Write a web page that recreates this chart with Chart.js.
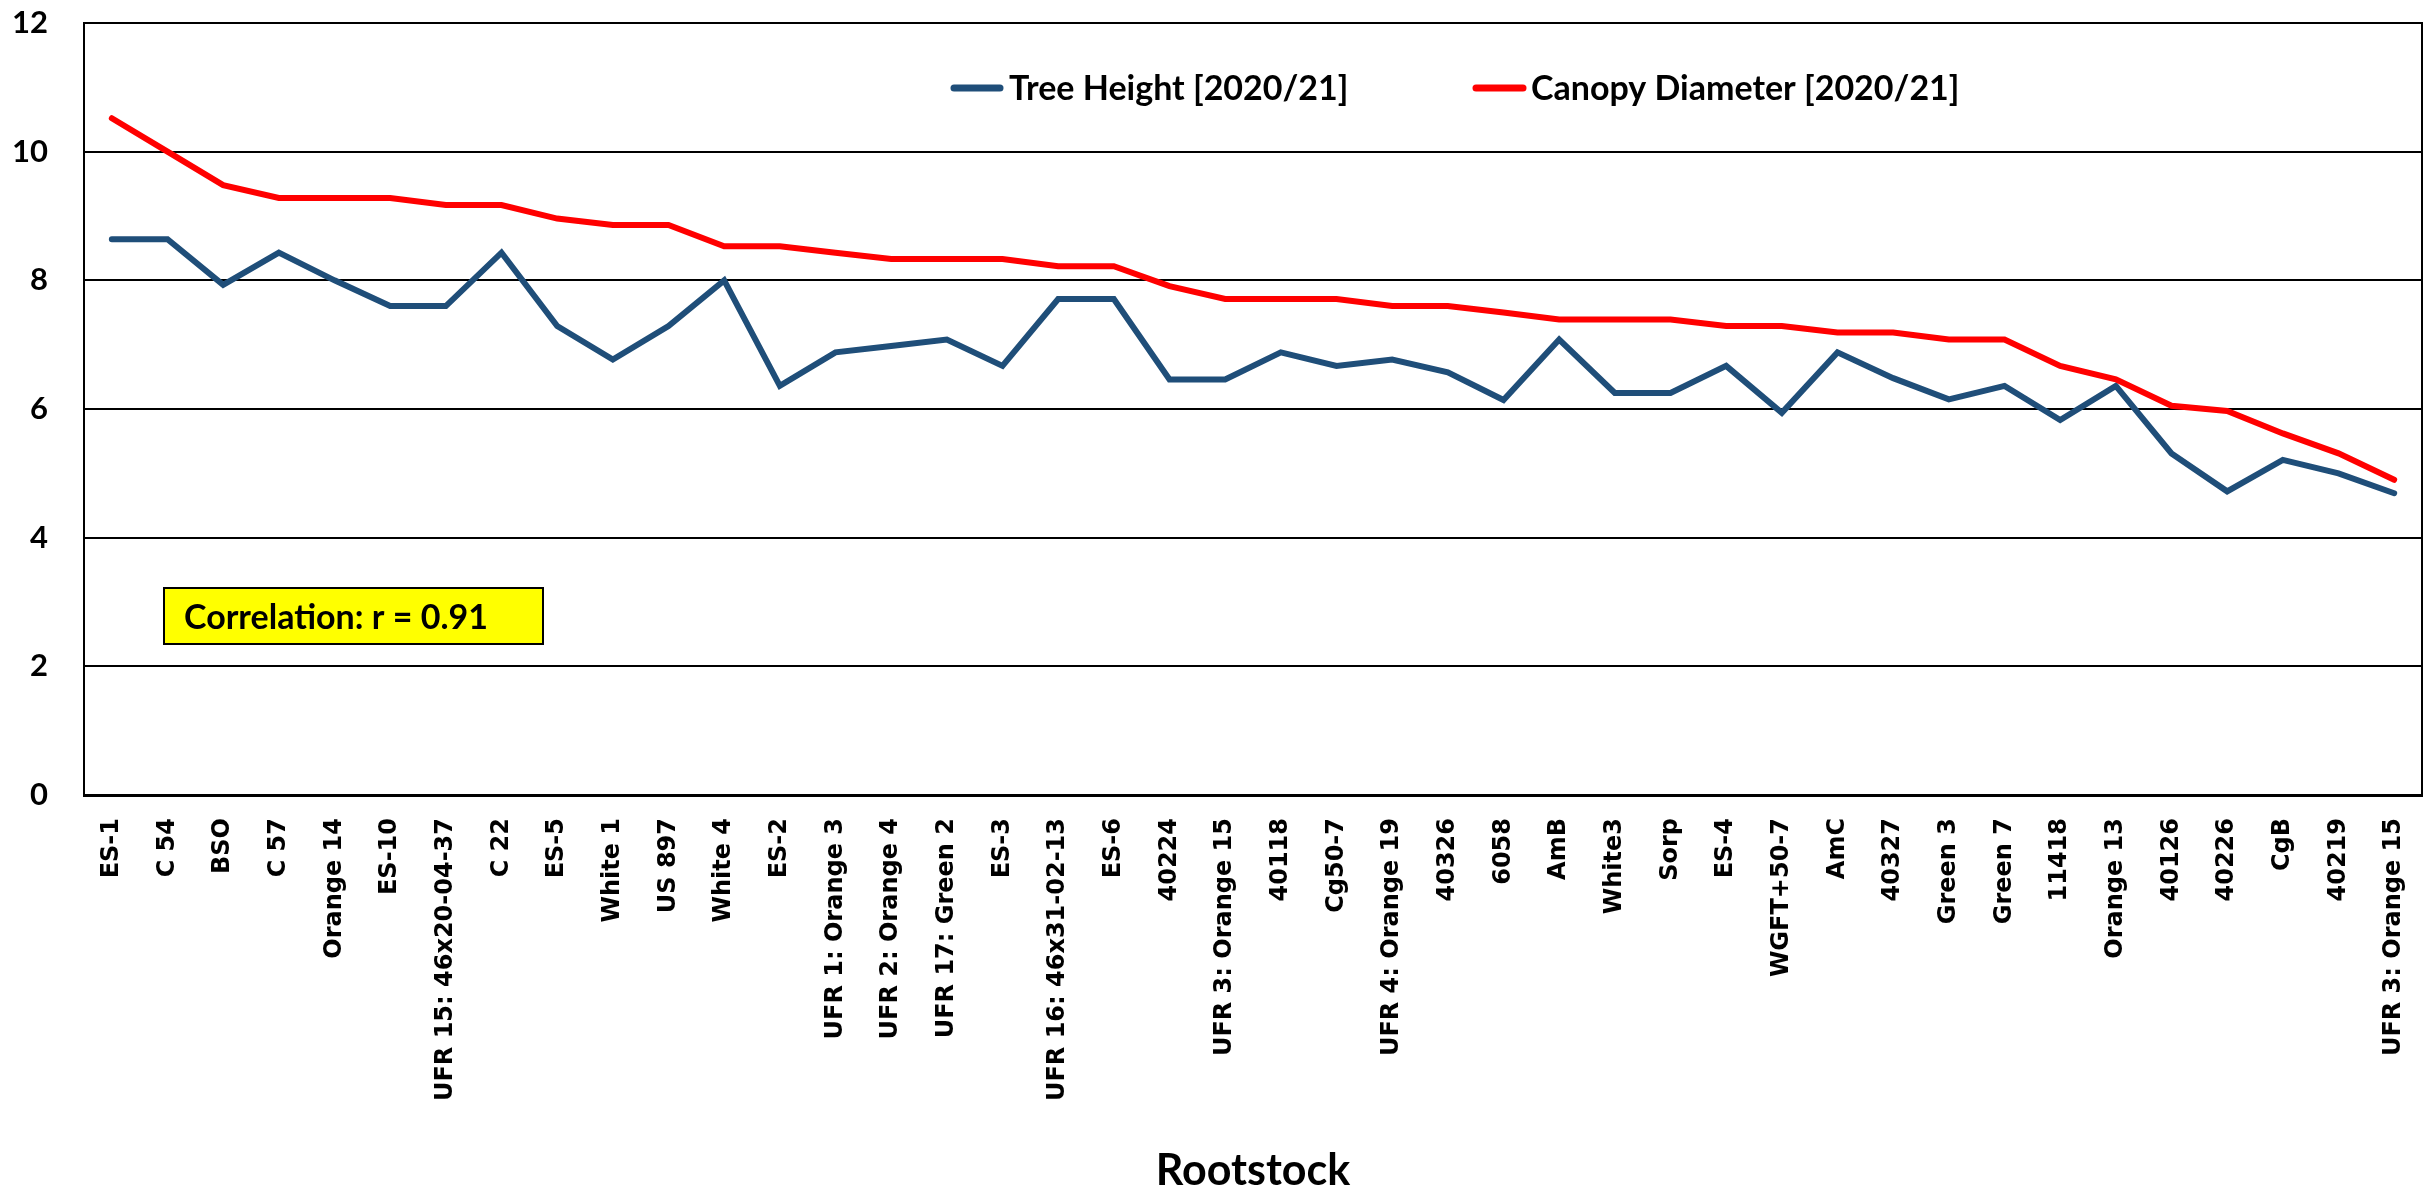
<!DOCTYPE html>
<html>
<head>
<meta charset="utf-8">
<script src="https://cdn.jsdelivr.net/npm/chart.js@4.4.1/dist/chart.umd.min.js"></script>
<style>
  html, body { margin: 0; padding: 0; background: #ffffff; }
  #wrap { width: 2428px; height: 1193px; }
</style>
</head>
<body>
<div id="wrap"><canvas id="chart" width="2428" height="1193"></canvas></div>
<script>
// Rootstocks, ordered by canopy diameter
const rootstocks = [
  'ES-1', 'C 54', 'BSO', 'C 57', 'Orange 14', 'ES-10', 'UFR 15: 46x20-04-37', 'C 22',
  'ES-5', 'White 1', 'US 897', 'White 4', 'ES-2', 'UFR 1: Orange 3', 'UFR 2: Orange 4',
  'UFR 17: Green 2', 'ES-3', 'UFR 16: 46x31-02-13', 'ES-6', '40224', 'UFR 3: Orange 15',
  '40118', 'Cg50-7', 'UFR 4: Orange 19', '40326', '6058', 'AmB', 'White3', 'Sorp', 'ES-4',
  'WGFT+50-7', 'AmC', '40327', 'Green 3', 'Green 7', '11418', 'Orange 13', '40126', '40226',
  'CgB', '40219', 'UFR 3: Orange 15'
];

const treeHeight = [
  8.64, 8.64, 7.93, 8.43, 8.0, 7.6, 7.6, 8.43, 7.29, 6.77, 7.29, 8.0, 6.36, 6.88,
  6.98, 7.08, 6.67, 7.71, 7.71, 6.46, 6.46, 6.88, 6.67, 6.77, 6.57, 6.14, 7.08, 6.25,
  6.25, 6.67, 5.94, 6.88, 6.48, 6.15, 6.36, 5.83, 6.36, 5.31, 4.72, 5.21, 5.0, 4.69
];

const canopyDiameter = [
  10.52, 10.0, 9.48, 9.28, 9.28, 9.28, 9.17, 9.17, 8.96, 8.86, 8.86, 8.53, 8.53, 8.43,
  8.33, 8.33, 8.33, 8.22, 8.22, 7.91, 7.71, 7.71, 7.71, 7.6, 7.6, 7.5, 7.39, 7.39,
  7.39, 7.29, 7.29, 7.19, 7.19, 7.08, 7.08, 6.67, 6.46, 6.05, 5.97, 5.62, 5.31, 4.9
];

const seriesNames = ['Tree Height [2020/21]', 'Canopy Diameter [2020/21]'];
const yTicks = [0, 2, 4, 6, 8, 10, 12];
const xTitle = 'Rootstock';
const correlationText = 'Correlation: r = 0.91';

const BLUE = '#1F4E79';
const RED = '#FF0000';
const CAL = 'Lato, "Liberation Sans", sans-serif';

// Frame round the plot area
const plotFrame = {
  id: 'plotFrame',
  afterDatasetsDraw(chart) {
    const { ctx, chartArea: a } = chart;
    ctx.save();
    ctx.strokeStyle = '#000';
    ctx.lineWidth = 2;
    ctx.strokeRect(a.left, a.top, a.right - a.left, a.bottom - a.top);
    ctx.restore();
  }
};

// Line-sample legend drawn inside the plot area
const lineLegend = {
  id: 'lineLegend',
  afterDraw(chart, args, opts) {
    const ctx = chart.ctx;
    ctx.save();
    ctx.font = opts.font;
    ctx.textBaseline = 'middle';
    ctx.textAlign = 'left';
    opts.items.forEach((it, i) => {
      const ds = chart.data.datasets[i];
      ctx.strokeStyle = ds.borderColor;
      ctx.lineWidth = opts.lineWidth;
      ctx.lineCap = 'round';
      ctx.beginPath();
      ctx.moveTo(it.x1, opts.y);
      ctx.lineTo(it.x2, opts.y);
      ctx.stroke();
      ctx.fillStyle = '#000';
      ctx.fillText(ds.label, it.tx, opts.y + 1);
    });
    ctx.restore();
  }
};

// Yellow note box with the correlation coefficient
const noteBox = {
  id: 'noteBox',
  afterDraw(chart, args, opts) {
    const ctx = chart.ctx;
    ctx.save();
    ctx.fillStyle = '#FFFF00';
    ctx.fillRect(opts.x, opts.y, opts.w, opts.h);
    ctx.strokeStyle = '#000';
    ctx.lineWidth = 2;
    ctx.strokeRect(opts.x, opts.y, opts.w, opts.h);
    ctx.fillStyle = '#000';
    ctx.font = opts.font;
    ctx.textBaseline = 'middle';
    ctx.fillText(opts.text, opts.x + opts.pad, opts.y + opts.h / 2 + 2);
    ctx.restore();
  }
};

function draw() {
  new Chart(document.getElementById('chart'), {
    type: 'line',
    data: {
      labels: rootstocks,
      datasets: [
        {
          label: seriesNames[0], data: treeHeight, borderColor: BLUE, backgroundColor: BLUE,
          borderWidth: 6, pointRadius: 0, tension: 0, borderCapStyle: 'round',
          borderJoinStyle: 'miter', order: 1
        },
        {
          label: seriesNames[1], data: canopyDiameter, borderColor: RED, backgroundColor: RED,
          borderWidth: 6, pointRadius: 0, tension: 0, borderCapStyle: 'round',
          borderJoinStyle: 'miter', order: 0
        }
      ]
    },
    options: {
      responsive: false,
      animation: false,
      devicePixelRatio: 1,
      layout: { padding: { top: 23, right: 6, left: 0, bottom: 0 } },
      plugins: {
        legend: { display: false },
        tooltip: { enabled: false },
        lineLegend: {
          y: 88, lineWidth: 7, font: 'bold 34px ' + CAL,
          items: [ { x1: 954, x2: 1000, tx: 1009 }, { x1: 1476, x2: 1523, tx: 1531 } ]
        },
        noteBox: {
          x: 164, y: 588, w: 379, h: 56, pad: 20, text: correlationText,
          font: 'bold 34px ' + CAL
        }
      },
      scales: {
        x: {
          type: 'category',
          offset: true,
          grid: { display: false, drawTicks: false },
          border: { display: true, color: '#000', width: 3 },
          ticks: {
            autoSkip: false, minRotation: 90, maxRotation: 90, padding: 23,
            color: '#000', font: { family: '"DejaVu Sans"', weight: 'bold', size: 24 }
          },
          title: {
            display: true, text: xTitle, color: '#000', padding: 0,
            font: { family: CAL, weight: 'bold', size: 43, lineHeight: 1 }
          },
          afterFit(scale) {
            scale.height = 398;
            scale.paddingLeft = 0;
            scale.paddingRight = 0;
          }
        },
        y: {
          min: yTicks[0], max: yTicks[yTicks.length - 1],
          grid: { color: '#000', lineWidth: 2, drawTicks: false },
          border: { display: true, color: '#000', width: 2 },
          ticks: {
            stepSize: yTicks[1] - yTicks[0], padding: 36, color: '#000',
            font: { family: CAL, weight: 'bold', size: 31 }
          },
          afterFit(scale) {
            scale.width = 84;
            scale.paddingTop = 0;
            scale.paddingBottom = 0;
          }
        }
      }
    },
    plugins: [plotFrame, lineLegend, noteBox]
  });
}

Promise.all([
  document.fonts.load('bold 31px Lato'),
  document.fonts.load('bold 24px "DejaVu Sans"')
]).then(draw, draw);
</script>
</body>
</html>
